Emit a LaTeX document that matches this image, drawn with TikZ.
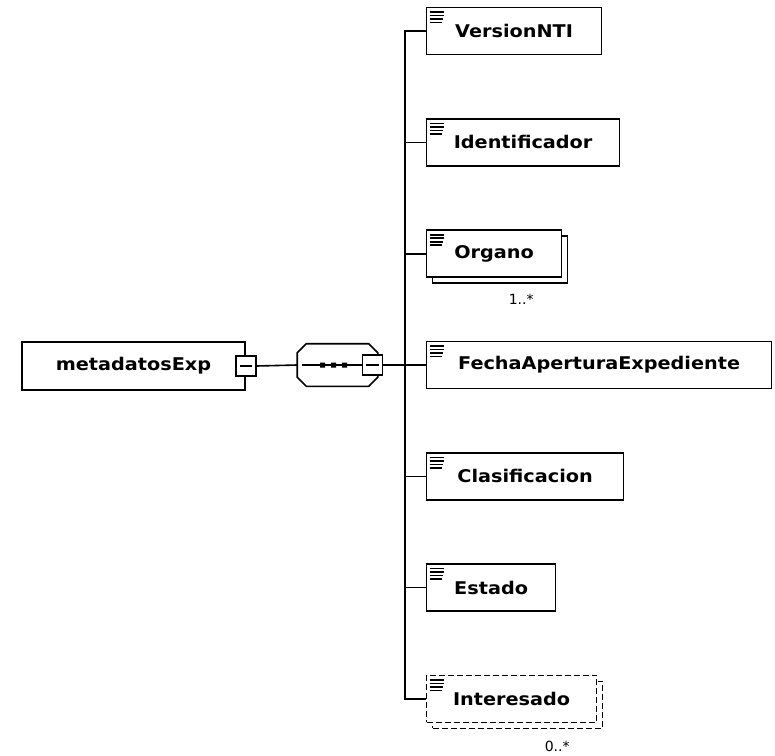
\documentclass[tikz,border=0pt]{standalone}
\usepackage{fontspec}
\usetikzlibrary{positioning,shadows}
\newfontfamily\elemfont{DejaVu Sans}[FakeStretch=1.1]
\newfontfamily\multfont{DejaVu Sans}

\tikzset{
  doclines/.style={path picture={
    \draw[solid, line width=1.6pt] ([xshift=3pt,yshift=-4.5pt]path picture bounding box.north west) -- ++(14pt,0)
      ++(-14pt,-3.5pt) -- ++(14pt,0) ++(-14pt,-3.5pt) -- ++(13pt,0) ++(-13pt,-3.5pt) -- ++(12pt,0);}},
  minusbox/.style={draw, fill=white, line width=1.6pt, minimum size=20pt, inner sep=0pt,
    path picture={\draw[line width=1.4pt] ([xshift=4pt]path picture bounding box.west) -- ([xshift=-3.5pt]path picture bounding box.east);}},
  stackbox/.style={general shadow={shadow xshift=6pt, shadow yshift=-6pt, draw, fill=white, line width=1.6pt}},
  optbox/.style={dash pattern=on 6pt off 3pt},
  optstackbox/.style={general shadow={shadow xshift=6pt, shadow yshift=-6pt, draw, fill=white, line width=1.6pt, dash pattern=on 6pt off 3pt}}
}

\begin{document}
\begin{tikzpicture}[
  x=1pt, y=1pt,
  line width=1.6pt,
  elem/.style={draw, fill=white, line width=1.6pt, minimum height=47pt, inner sep=0pt,
    anchor=west, font=\elemfont\bfseries\fontsize{17.5pt}{20pt}\selectfont},
  seqshape/.style={minimum width=79pt, minimum height=41pt, inner sep=0pt},
  mult/.style={font=\multfont\fontsize{14pt}{16pt}\selectfont, inner sep=0pt},
  grow'=right,
  level distance=53.5pt,
  level 1/.style={sibling distance=111.3pt},
  every child node/.style={elem, doclines},
  edge from parent path={(\tikzparentnode.east) -- ++(22pt,0) |- (\tikzchildnode.west)}
]
\useasboundingbox (0,0) rectangle (775,-755);

\node[elem, anchor=center, minimum width=223pt, minimum height=48pt] (meta) at (133.5,-366) {metadatosExp};
\node[minusbox] (metabox) at (meta.east) {};

% sequence compositor
\node[seqshape] (seq) at (337.5,-365) {};
\draw ([xshift=9pt]seq.north west) -- ([xshift=-9pt]seq.north east) -- ([yshift=-9pt]seq.north east)
  -- ([yshift=9pt]seq.south east) -- ([xshift=-9pt]seq.south east) -- ([xshift=9pt]seq.south west)
  -- ([yshift=9pt]seq.south west) -- ([yshift=-9pt]seq.north west) -- cycle;
\draw (metabox.east) -- (seq.west);

\node[minusbox] (seqbox) at ([xshift=-5.5pt]seq.east) {}
  child { node[minimum width=175pt] (versionnti) {VersionNTI} }
  child { node[minimum width=193pt] (identificador) {Identificador} }
  child { node[minimum width=135pt, stackbox] (organo) {Organo} }
  child { node[minimum width=345pt] (fecha) {FechaAperturaExpediente} }
  child { node[minimum width=197pt] (clasificacion) {Clasificacion} }
  child { node[minimum width=129pt] (estado) {Estado} }
  child { node[minimum width=170pt, optbox, optstackbox] (interesado) {Interesado} };

\draw ([xshift=5pt]seq.west) -- (seqbox.west);
\fill ([xshift=-15pt]seq.center) +(-2.5,-2.5) rectangle +(2.5,2.5)
      ([xshift=-4pt]seq.center) +(-2.5,-2.5) rectangle +(2.5,2.5)
      ([xshift=7pt]seq.center) +(-2.5,-2.5) rectangle +(2.5,2.5);

\node[mult, below left=15pt and 28pt of organo.south east] (organomult) {1..*};
\node[mult, below left=17pt and 27pt of interesado.south east] (interesadomult) {0..*};
\end{tikzpicture}
\end{document}
